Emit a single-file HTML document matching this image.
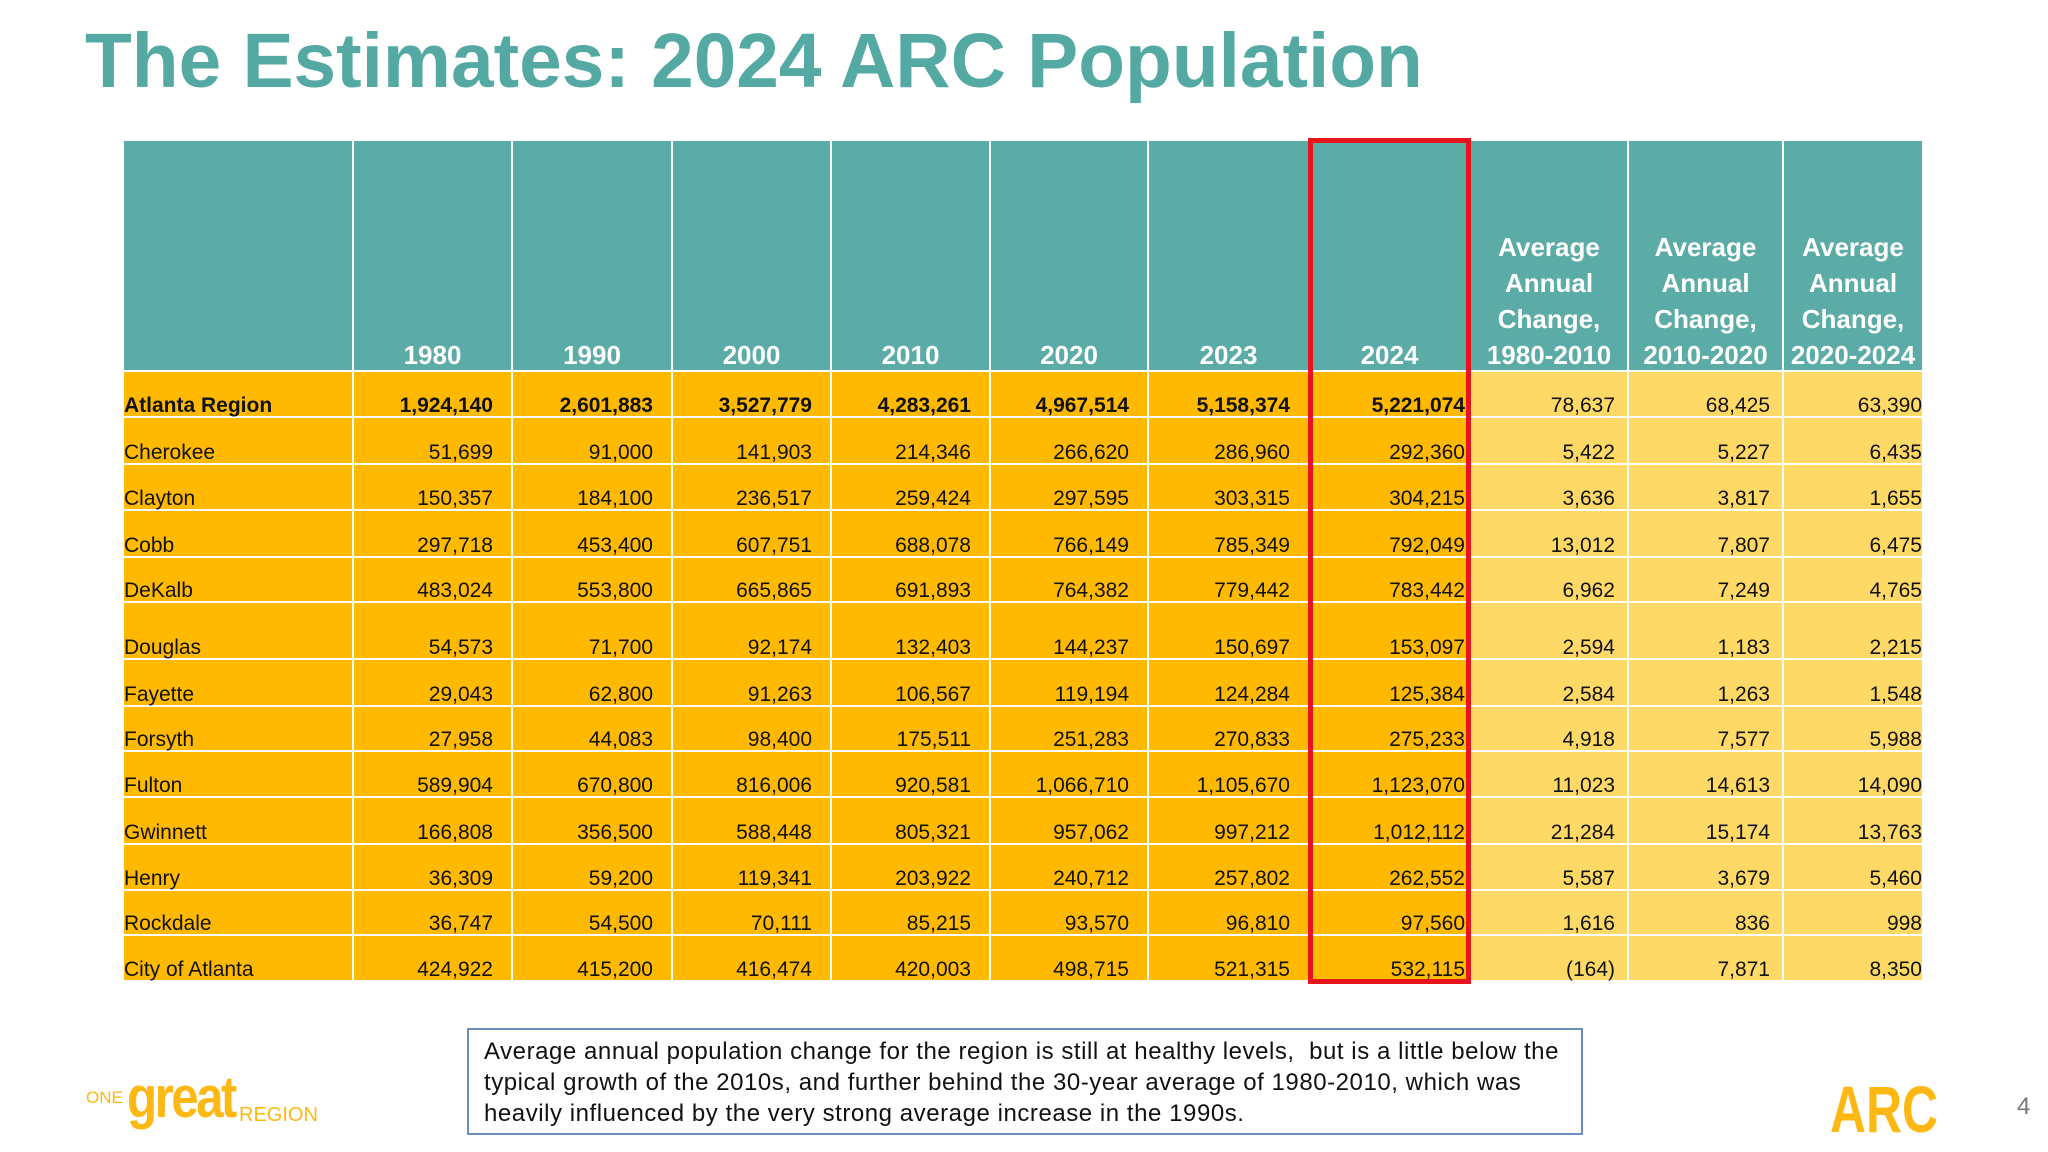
<!DOCTYPE html>
<html><head><meta charset="utf-8"><style>
body{margin:0;width:2048px;height:1152px;background:#fff;position:relative;overflow:hidden;font-family:"Liberation Sans",sans-serif}
.abs{position:absolute}
.cell{position:absolute;box-sizing:border-box;font-size:21px;color:#111;white-space:nowrap}
.cell span{position:absolute;bottom:-2px}
.hd{position:absolute;box-sizing:border-box;background:#5BABA7;color:#fff;font-weight:bold;font-size:26px;line-height:36px;text-align:center;display:flex;flex-direction:column;justify-content:flex-end}
</style></head><body>
<div class="abs" style="left:85px;top:14px;font-size:76.6px;font-weight:bold;color:#55A9A3;line-height:96px">The Estimates: 2024 ARC Population</div>
<div id="tbl"></div>
<div class="abs" style="left:1308px;top:138px;width:163px;height:846px;border:5px solid #E8141B;box-sizing:border-box"></div>
<div class="abs" style="left:467px;top:1028px;width:1116px;height:107px;border:2px solid #6D8FBF;box-sizing:border-box;padding:6px 0 0 15px;font-size:24px;letter-spacing:0.55px;line-height:31px;color:#111;white-space:nowrap">Average annual population change for the region is still at healthy levels,&nbsp; but is a little below the<br>typical growth of the 2010s, and further behind the 30-year average of 1980-2010, which was<br>heavily influenced by the very strong average increase in the 1990s.</div>
<div class="abs" style="left:86px;top:1078px;color:#FDB813;white-space:nowrap">
<span style="position:absolute;left:0;top:10px;font-size:17px">ONE</span>
<span style="position:absolute;left:41px;top:-14px;font-size:58px;font-weight:bold;letter-spacing:-3px;transform:scaleX(0.85);transform-origin:left">great</span>
<span style="position:absolute;left:153px;top:26px;font-size:20px">REGION</span>
</div>
<svg class="abs" style="left:1830px;top:1080px" width="112" height="56"><text x="0" y="52" font-family="Liberation Sans" font-weight="bold" font-size="66" fill="#FDB813" textLength="108" lengthAdjust="spacingAndGlyphs">ARC</text></svg>
<div class="abs" style="left:2017px;top:1093px;font-size:24px;color:#777">4</div>
<script>
const rowLabels=["Atlanta Region","Cherokee","Clayton","Cobb","DeKalb","Douglas","Fayette","Forsyth","Fulton","Gwinnett","Henry","Rockdale","City of Atlanta"];
const headers=["","1980","1990","2000","2010","2020","2023","2024","Average<br>Annual<br>Change,<br>1980-2010","Average<br>Annual<br>Change,<br>2010-2020","Average<br>Annual<br>Change,<br>2020-2024"];
const v1980=["1,924,140","51,699","150,357","297,718","483,024","54,573","29,043","27,958","589,904","166,808","36,309","36,747","424,922"];
const v1990=["2,601,883","91,000","184,100","453,400","553,800","71,700","62,800","44,083","670,800","356,500","59,200","54,500","415,200"];
const v2000=["3,527,779","141,903","236,517","607,751","665,865","92,174","91,263","98,400","816,006","588,448","119,341","70,111","416,474"];
const v2010=["4,283,261","214,346","259,424","688,078","691,893","132,403","106,567","175,511","920,581","805,321","203,922","85,215","420,003"];
const v2020=["4,967,514","266,620","297,595","766,149","764,382","144,237","119,194","251,283","1,066,710","957,062","240,712","93,570","498,715"];
const v2023=["5,158,374","286,960","303,315","785,349","779,442","150,697","124,284","270,833","1,105,670","997,212","257,802","96,810","521,315"];
const v2024=["5,221,074","292,360","304,215","792,049","783,442","153,097","125,384","275,233","1,123,070","1,012,112","262,552","97,560","532,115"];
const chg8010=["78,637","5,422","3,636","13,012","6,962","2,594","2,584","4,918","11,023","21,284","5,587","1,616","(164)"];
const chg1020=["68,425","5,227","3,817","7,807","7,249","1,183","1,263","7,577","14,613","15,174","3,679","836","7,871"];
const chg2024=["63,390","6,435","1,655","6,475","4,765","2,215","1,548","5,988","14,090","13,763","5,460","998","8,350"];
const cols=[rowLabels,v1980,v1990,v2000,v2010,v2020,v2023,v2024,chg8010,chg1020,chg2024];
const colX=[124,354,513,673,832,991,1149,1310,1471,1629,1784,1924];
const rowY=[372,418,465,511,558,603,660,707,752,798,845,891,936,982];
const padR=[0,18,18,18,18,18,18,4,12,12,0];
const names=["region","1980","1990","2000","2010","2020","2023","2024","change-1980-2010","change-2010-2020","change-2020-2024"];
const tbl=document.getElementById('tbl');
for(let c=0;c<11;c++){
  const h=document.createElement('div');
  h.className='hd';
  
  
  h.style.left=colX[c]+'px';h.style.top='141px';
  h.style.width=(colX[c+1]-colX[c]-2)+'px';h.style.height=(372-141-2)+'px';
  h.innerHTML='<div style="margin-bottom:-3px">'+headers[c]+'</div>';
  tbl.appendChild(h);
  for(let r=0;r<rowLabels.length;r++){
    const d=document.createElement('div');
    d.className='cell';
    
    
    d.style.left=colX[c]+'px';d.style.top=rowY[r]+'px';
    d.style.width=(colX[c+1]-colX[c]-2)+'px';d.style.height=(rowY[r+1]-rowY[r]-2)+'px';
    d.style.background=c>=8?'#FFD966':'#FFB901';
    if(r===0&&c<8)d.style.fontWeight='bold';
    const s=document.createElement('span');
    s.textContent=cols[c][r];
    if(c===0)s.style.left='0px';else s.style.right=padR[c]+'px';
    d.appendChild(s);
    tbl.appendChild(d);
  }
}
</script>
</body></html>
